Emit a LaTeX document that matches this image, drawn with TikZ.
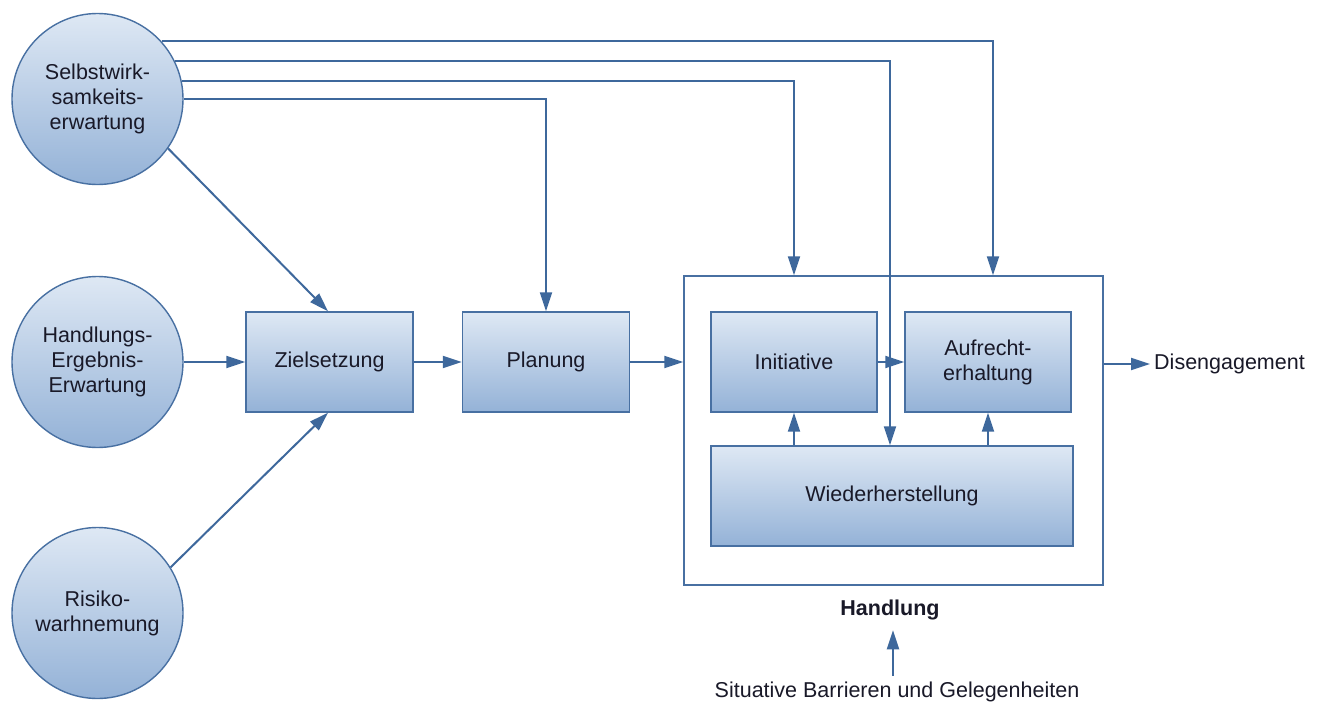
\documentclass[tikz,border=0pt]{standalone}
\usepackage{fontspec}
\setmainfont{Liberation Sans}
\usetikzlibrary{arrows.meta,calc}
\definecolor{lineblue}{RGB}{62,104,156}
\definecolor{edgeblue}{RGB}{72,112,162}
\definecolor{topfill}{RGB}{222,232,244}
\definecolor{botfill}{RGB}{148,178,215}
\definecolor{txt}{RGB}{25,25,40}
\tikzset{
  base/.style={draw=edgeblue, line width=1.4pt, top color=topfill, bottom color=botfill,
    text=txt, font=\fontsize{21.5}{25}\selectfont, align=center, inner sep=0pt},
  circ/.style={base, circle, minimum size=171pt},
  box/.style={base, rectangle, minimum width=166pt, minimum height=100pt},
  arr/.style={draw=lineblue, line width=2pt, -{Triangle[length=19pt,width=12pt]}},
  lbl/.style={text=txt, font=\fontsize{21.5}{25}\selectfont, inner sep=0pt}
}
\begin{document}
\begin{tikzpicture}[x=1pt,y=-1pt]
\useasboundingbox (0,0) rectangle (1325,704);
\fill[white] (0,0) rectangle (1325,704);
% circles
\node[circ] (S) at (97.5,99) {Selbstwirk-\\samkeits-\\erwartung};
\node[circ] (H) at (97.5,362) {Handlungs-\\Ergebnis-\\Erwartung};
\node[circ] (R) at (97.5,613) {Risiko-\\warhnemung};
% boxes
\node[box, minimum width=167pt] (Z) at (329.5,362) {Zielsetzung};
\node[box, minimum width=167pt] (P) at (546,362) {Planung};
\node[draw=edgeblue, line width=1.4pt, fill=white, minimum width=419pt, minimum height=309pt, inner sep=0pt] (O) at (893.5,430.5) {};
\node[box] (I) at (794,362) {Initiative};
\node[box] (A) at (988,362) {Aufrecht-\\erhaltung};
\node[box, minimum width=362pt] (W) at (892,496) {Wiederherstellung};
% labels
\node[lbl, anchor=west, inner sep=4pt] (D) at (1150,364) {Disengagement};
\node[lbl, font=\fontsize{21.5}{25}\selectfont\bfseries, inner sep=10pt] (HL) at (890,610) {Handlung};
\node[lbl, inner sep=6pt] (SB) at (897,692) {Situative Barrieren und Gelegenheiten};
% connectors from Selbstwirksamkeit
\draw[arr] (S.42.29) -| ([xshift=99.5pt]O.north);
\draw[arr] (S.26.16) -| ([xshift=-2pt]W.north);
\draw[arr] (S.12.73) -| (I.north |- O.north);
\draw[arr] (S.east) -| (P.north);
\draw[arr] (S.-35) -- ([xshift=-1.5pt]Z.north);
\draw[arr] (R.32) -- ([xshift=-1.5pt]Z.south);
\draw[arr] (H.east) -- (H.east -| Z.west);
\draw[arr] (Z.east) -- (P.west);
\draw[arr] (P.east) -- (P.east -| O.west);
\draw[arr] (I.east) -- (A.west);
\draw[arr] (W.north -| I) -- (I.south);
\draw[arr] (W.north -| A) -- (A.south);
\draw[arr] (O.east |- D.west) -- (D.west);
\draw[arr] ([xshift=3pt]HL.south |- SB.north) -- ([xshift=3pt]HL.south);
\end{tikzpicture}
\end{document}
